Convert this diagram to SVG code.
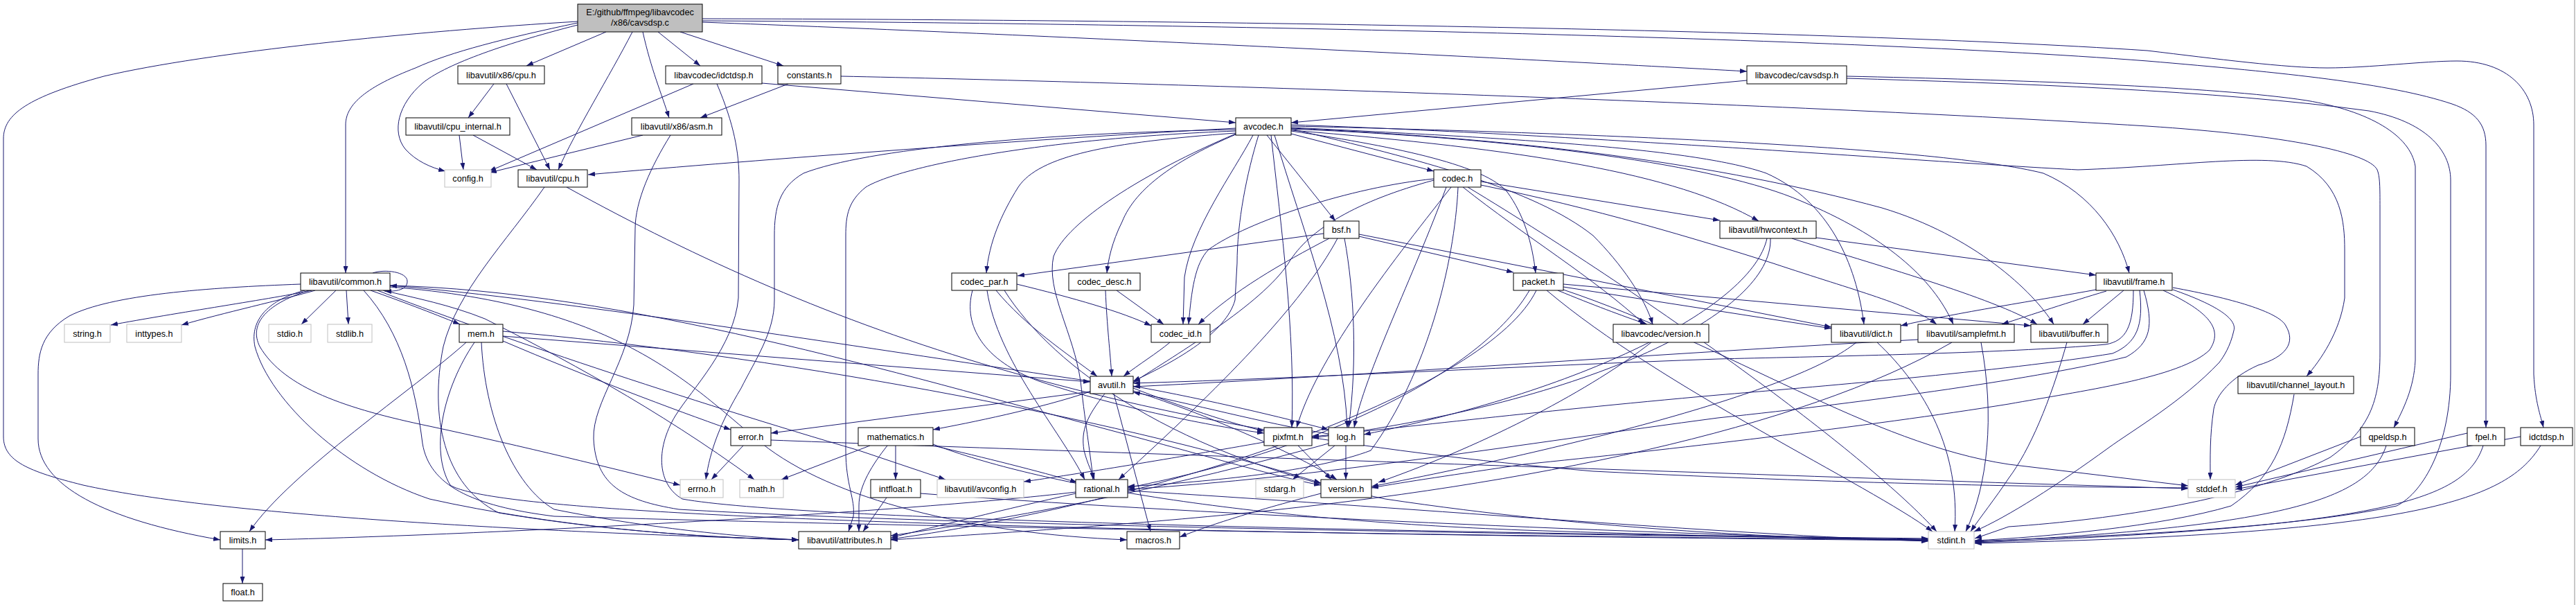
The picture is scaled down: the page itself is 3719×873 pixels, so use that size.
<svg xmlns="http://www.w3.org/2000/svg" width="3719" height="873" viewBox="0 0 3719 873">
<style>
.n rect{fill:#fff;stroke:#000;stroke-width:1}
.g rect{fill:#fff;stroke:#bfbfbf;stroke-width:1}
.r rect{fill:#bfbfbf;stroke:#000;stroke-width:1}
text{font-family:"Liberation Sans",Arial,sans-serif;font-size:12.7px;text-anchor:middle;fill:#000}
.e path{fill:none;stroke:#191970;stroke-width:1;marker-end:url(#a)}
</style>
<defs>
<marker id="a" markerUnits="userSpaceOnUse" markerWidth="10" markerHeight="7" refX="10" refY="3.5" orient="auto">
<path d="M0,0 L10,3.5 L0,7 z" fill="#191970"/>
</marker>
</defs>
<rect x="0" y="0" width="3719" height="873" fill="#fff"/>
<line x1="3717" y1="0" x2="3717" y2="873" stroke="#c8c8c8" stroke-width="2"/>
<g id="edges" class="e">
<path d="M875,46 L760,95"/>
<path d="M913,46 C880,110 830,190 806,245"/>
<path d="M928,46 C940,100 955,135 966,170"/>
<path d="M950,46 L1011,95"/>
<path d="M982,46 L1131,95"/>
<path d="M1014,32 C1500,50 2200,85 2522,103"/>
<path d="M1014,27 C1600,28 2600,40 3100,73 C3200,85 3300,98 3360,98 C3420,98 3500,88 3547,88 C3620,88 3658,130 3658,180 L3658,540 C3660,580 3668,600 3672,617"/>
<path d="M1014,30 C1600,33 2600,50 3100,88 C3300,105 3450,120 3540,150 C3575,162 3589,180 3589,210 L3589,617"/>
<path d="M834,33 C730,55 650,75 600,98 C530,125 499,150 499,180 L499,394"/>
<path d="M834,36 C720,65 640,95 610,120 C575,150 565,190 585,215 C600,232 622,242 643,247"/>
<path d="M834,31 C600,45 300,75 150,110 C40,140 5,165 5,200 L5,630 C5,665 40,680 120,700 C300,740 700,765 1153,779"/>
<path d="M713,121 L676,170"/>
<path d="M731,121 L794,245"/>
<path d="M663,195 L669,245"/>
<path d="M683,195 L775,245"/>
<path d="M1100,120 L1784,177"/>
<path d="M1001,121 L706,247"/>
<path d="M1035,121 C1060,180 1067,220 1067,260 L1066,430 C1060,500 1000,560 975,600 C945,650 950,700 985,720 C1150,750 2000,768 2784,777"/>
<path d="M1138,121 L1011,170"/>
<path d="M1214,110 C1600,118 2500,145 3100,182 C3300,195 3420,220 3432,245 C3436,255 3436,270 3436,300 L3436,510 C3436,580 3420,620 3364,660 C3250,720 3050,750 2900,760 L2851,777"/>
<path d="M928,195 L707,249"/>
<path d="M968,195 C940,240 917,290 917,330 L915,440 C910,520 855,580 857,633 C860,700 900,722 980,735 C1400,760 2300,772 2784,778"/>
<path d="M2522,116 L1864,177"/>
<path d="M2666,110 C2900,115 3200,125 3330,145 C3420,160 3480,195 3487,240 L3487,520 C3485,560 3470,590 3456,617"/>
<path d="M2666,113 C2900,120 3200,130 3420,160 C3500,175 3538,215 3538,260 L3538,540 C3538,640 3500,710 3460,730 C3300,765 3000,775 2851,781"/>
<path d="M1784,185 C1500,200 1100,230 849,252"/>
<path d="M1784,187 C1500,192 1250,215 1160,250 C1125,270 1118,300 1118,340 L1118,433 C1118,480 1090,520 1070,560 C1040,610 1025,650 1019,692"/>
<path d="M1784,189 C1500,200 1300,240 1250,270 C1225,290 1221,310 1221,340 L1221,650 C1221,700 1235,720 1232,745 L1225,767"/>
<path d="M1784,192 C1600,205 1500,225 1470,270 C1445,310 1428,350 1424,394"/>
<path d="M1784,194 C1700,230 1640,270 1620,320 C1605,350 1600,375 1598,394"/>
<path d="M1809,195 C1780,250 1720,330 1710,400 L1708,468"/>
<path d="M1817,195 C1800,250 1786,320 1786,380 L1783,433 C1770,480 1700,520 1636,550"/>
<path d="M1829,195 L1928,319"/>
<path d="M1864,193 L2070,247"/>
<path d="M1864,189 C2026,213 2145,240 2176,277 C2200,310 2212,350 2217,394"/>
<path d="M1864,186 C2050,230 2216,273 2300,340 C2340,380 2375,430 2386,468"/>
<path d="M1864,188 C2200,215 2420,250 2539,319"/>
<path d="M1864,186 C2200,200 2480,238 2600,290 C2720,340 2790,400 2820,468"/>
<path d="M1864,185 C2200,200 2480,236 2717,300 C2850,340 2935,420 2965,468"/>
<path d="M1864,184 C2200,200 2450,215 2550,250 C2640,290 2680,380 2691,468"/>
<path d="M1864,182 C2300,192 2800,212 2950,250 C3020,280 3060,340 3074,394"/>
<path d="M1864,180 C2300,195 2800,235 3000,245 C3150,240 3270,220 3330,240 C3380,270 3385,320 3385,360 L3385,430 C3378,480 3350,520 3330,543"/>
<path d="M1840,195 C1880,330 1940,480 1945,617"/>
<path d="M1835,195 C1850,330 1870,480 1865,617"/>
<path d="M1784,193 C1650,250 1540,320 1521,370 C1510,420 1550,480 1560,550 C1568,620 1575,660 1578,692"/>
<path d="M2138,262 L2483,318"/>
<path d="M2138,267 C2300,300 2450,345 2560,380 C2680,420 2760,440 2796,468"/>
<path d="M2070,258 C1950,270 1800,320 1745,360 C1725,380 1720,420 1716,468"/>
<path d="M2070,260 C1960,290 1890,330 1860,380 C1820,440 1700,510 1636,552"/>
<path d="M2088,270 C2040,400 1970,540 1955,617"/>
<path d="M2095,270 C2000,390 1900,520 1872,617"/>
<path d="M2105,270 C2100,380 2060,540 1979,650 C1900,680 1750,695 1628,702"/>
<path d="M2119,270 C2400,440 2700,660 2796,767"/>
<path d="M2112,270 C2200,340 2300,400 2374,468"/>
<path d="M1962,338 L2644,472"/>
<path d="M1962,341 L2185,393"/>
<path d="M1941,344 C1955,420 1960,520 1947,617"/>
<path d="M1931,344 C1880,440 1760,560 1615,692"/>
<path d="M1919,344 C1850,380 1780,420 1730,468"/>
<path d="M1911,337 L1469,398"/>
<path d="M2587,344 C2700,380 2880,430 2941,468"/>
<path d="M2622,343 L3026,397"/>
<path d="M2551,344 C2530,440 2300,560 1969,627"/>
<path d="M2556,344 C2560,450 2300,580 1894,632"/>
<path d="M450,419 C400,430 250,452 160,469"/>
<path d="M455,419 C410,432 320,452 262,469"/>
<path d="M485,419 L435,468"/>
<path d="M500,419 L503,468"/>
<path d="M434,410 C300,415 160,425 100,456 C60,480 55,510 55,540 L55,633 C55,700 150,750 318,779"/>
<path d="M446,419 C380,440 360,470 375,500 C410,560 500,590 620,615 C760,645 880,675 982,700"/>
<path d="M553,419 C600,430 650,440 700,460 C800,510 950,590 1089,692"/>
<path d="M525,419 C580,480 600,560 610,640 C620,700 680,730 800,745 C1500,765 2300,775 2784,779"/>
<path d="M440,419 C390,432 360,460 368,500 C390,580 500,680 620,720 C800,760 1000,776 1153,779"/>
<path d="M563,414 C900,440 1000,560 1100,640 C1200,720 1400,770 1627,779"/>
<path d="M563,412 C900,420 1300,540 1600,620 C1750,660 1850,690 1907,700"/>
<path d="M545,419 C700,480 1000,580 1240,650 L1365,692"/>
<path d="M535,419 C580,435 620,450 664,468"/>
<path d="M538,394 C555,388 588,392 588,406 C588,418 572,421 555,420"/>
<path d="M1574,550 C1300,510 800,430 563,412"/>
<path d="M673,494 C600,560 420,680 360,767"/>
<path d="M695,494 C700,600 740,700 800,735 C950,765 1080,775 1153,779"/>
<path d="M685,494 C640,560 620,650 650,700 C720,745 1500,768 2784,780"/>
<path d="M726,492 C850,545 970,590 1055,620"/>
<path d="M726,485 L1574,551"/>
<path d="M726,478 C1100,510 1600,600 1907,697"/>
<path d="M1073,643 L1027,692"/>
<path d="M1113,635 C1500,650 2500,683 2900,697 L3159,705"/>
<path d="M1293,643 L1293,692"/>
<path d="M1256,643 L1128,692"/>
<path d="M1347,643 C1420,660 1500,680 1555,696"/>
<path d="M1281,643 C1260,670 1240,700 1240,730 L1240,767"/>
<path d="M1347,641 C1500,700 1800,750 2200,765 C2500,775 2700,778 2784,779"/>
<path d="M1280,718 L1246,767"/>
<path d="M1329,712 C1700,740 2300,768 2784,780"/>
<path d="M1553,710 C1300,740 700,772 383,779"/>
<path d="M1553,712 C1450,735 1350,760 1286,776"/>
<path d="M1628,708 C2000,730 2500,772 2784,781"/>
<path d="M1574,565 L1113,625"/>
<path d="M1574,565 C1500,590 1400,610 1347,620"/>
<path d="M1595,568 C1570,600 1560,620 1565,650 C1570,670 1577,682 1580,692"/>
<path d="M1636,564 C1750,600 1880,660 1930,692"/>
<path d="M1608,568 L1661,767"/>
<path d="M1636,560 C1700,585 1780,612 1825,622"/>
<path d="M1636,557 C1750,578 1850,602 1918,620"/>
<path d="M1825,638 C1700,660 1550,685 1478,695"/>
<path d="M1874,643 L1922,692"/>
<path d="M1927,643 L1866,692"/>
<path d="M1943,643 L1943,692"/>
<path d="M1918,626 C1820,610 1720,582 1636,566"/>
<path d="M1918,640 C1700,700 1500,742 1286,773"/>
<path d="M1907,712 C1800,740 1740,760 1703,775"/>
<path d="M1689,494 C1670,510 1645,525 1622,543"/>
<path d="M1468,410 C1550,430 1620,450 1662,470"/>
<path d="M1438,419 C1480,470 1540,510 1584,543"/>
<path d="M1425,419 C1440,520 1530,620 1566,692"/>
<path d="M1404,419 C1390,470 1420,520 1500,550 C1620,590 1750,615 1825,625"/>
<path d="M1450,419 C1520,530 1700,660 2000,720 C2300,765 2600,778 2784,780"/>
<path d="M1612,419 L1680,468"/>
<path d="M1596,419 C1598,470 1603,510 1605,543"/>
<path d="M2257,410 L2932,470"/>
<path d="M2257,414 L2644,474"/>
<path d="M2249,419 C2300,440 2340,455 2378,468"/>
<path d="M2208,419 C2150,520 1950,640 1628,704"/>
<path d="M2218,419 C2150,560 1700,720 1286,778"/>
<path d="M2233,419 C2400,560 2700,700 2790,767"/>
<path d="M2257,418 C2500,500 2700,640 2900,670 L3159,701"/>
<path d="M3066,419 L3007,468"/>
<path d="M3026,418 C2950,432 2820,452 2744,470"/>
<path d="M3041,420 C2990,435 2930,455 2890,468"/>
<path d="M3137,415 C3220,430 3290,450 3300,470 C3315,495 3300,515 3260,527 C3220,545 3200,570 3196,590 C3190,630 3191,660 3191,692"/>
<path d="M3137,418 C3200,440 3230,460 3225,477 C3220,500 3210,515 3204,523 C3150,580 3080,620 3043,647 C2970,700 2900,745 2850,767"/>
<path d="M3080,419 C3080,470 3070,492 3040,497 C2900,510 2600,515 2480,518 C2200,528 1900,545 1636,553"/>
<path d="M3089,419 C3095,470 3085,495 3050,510 C2900,535 2600,560 2480,570 C2200,595 2000,620 1894,630"/>
<path d="M3095,419 C3110,470 3105,495 3070,515 C2950,545 2700,580 2480,603 C2200,640 1900,690 1628,706"/>
<path d="M3123,419 C3190,450 3210,475 3190,505 C3150,545 3000,565 2900,583 C2700,615 2400,650 2200,670 C2100,685 2030,695 1980,704"/>
<path d="M2710,494 C2780,560 2830,650 2822,767"/>
<path d="M2680,494 C2600,560 2300,640 1980,702"/>
<path d="M2860,494 C2880,600 2870,700 2838,767"/>
<path d="M2769,490 C2400,510 2000,540 1636,558"/>
<path d="M2818,494 C2600,620 2200,700 1800,740 C1600,760 1400,772 1286,779"/>
<path d="M2984,494 C2960,580 2930,650 2900,690 C2880,720 2860,745 2845,767"/>
<path d="M3312,569 C3300,640 3280,690 3221,730 C3120,760 2950,775 2851,780"/>
<path d="M2384,494 C2300,560 2150,640 1990,696"/>
<path d="M3408,630 L3227,700"/>
<path d="M3445,643 C3420,720 3300,760 2851,782"/>
<path d="M3562,625 L3227,703"/>
<path d="M3585,643 C3560,720 3450,760 2851,783"/>
<path d="M3639,630 L3227,706"/>
<path d="M3668,643 C3620,720 3500,770 2851,784"/>
<path d="M786,270 C730,350 660,420 640,500 C620,600 640,700 720,740 C900,770 1050,776 1153,779"/>
<path d="M818,270 C1200,480 1600,620 2300,680 C2700,700 3000,703 3159,704"/>
<path d="M350,792 L350,842"/>
</g>
<g id="node-root" class="r"><rect x="834" y="6" width="180" height="40"/><text x="924" y="22">E:/github/ffmpeg/libavcodec</text><text x="924" y="37">/x86/cavsdsp.c</text></g>
<g id="node-x86cpu" class="n"><rect x="661" y="95" width="125" height="26"/><text x="723.5" y="112.5">libavutil/x86/cpu.h</text></g>
<g id="node-lavc-idctdsp" class="n"><rect x="961" y="95" width="139" height="26"/><text x="1030.5" y="112.5">libavcodec/idctdsp.h</text></g>
<g id="node-constants" class="n"><rect x="1123" y="95" width="91" height="26"/><text x="1168.5" y="112.5">constants.h</text></g>
<g id="node-cavsdsp" class="n"><rect x="2522" y="95" width="144" height="26"/><text x="2594" y="112.5">libavcodec/cavsdsp.h</text></g>
<g id="node-cpu-internal" class="n"><rect x="586" y="170" width="150" height="25"/><text x="661" y="187">libavutil/cpu_internal.h</text></g>
<g id="node-asm" class="n"><rect x="912" y="170" width="130" height="25"/><text x="977" y="187">libavutil/x86/asm.h</text></g>
<g id="node-avcodec" class="n"><rect x="1784" y="170" width="80" height="25"/><text x="1824" y="187">avcodec.h</text></g>
<g id="node-config" class="g"><rect x="642" y="245" width="67" height="25"/><text x="675.5" y="262">config.h</text></g>
<g id="node-cpu" class="n"><rect x="748" y="245" width="100" height="25"/><text x="798" y="262">libavutil/cpu.h</text></g>
<g id="node-codec" class="n"><rect x="2070" y="245" width="68" height="25"/><text x="2104" y="262">codec.h</text></g>
<g id="node-bsf" class="n"><rect x="1911" y="319" width="51" height="25"/><text x="1936.5" y="336">bsf.h</text></g>
<g id="node-hwcontext" class="n"><rect x="2483" y="319" width="139" height="25"/><text x="2552.5" y="336">libavutil/hwcontext.h</text></g>
<g id="node-common" class="n"><rect x="434" y="394" width="129" height="25"/><text x="498.5" y="411">libavutil/common.h</text></g>
<g id="node-codec-par" class="n"><rect x="1374" y="394" width="94" height="25"/><text x="1421" y="411">codec_par.h</text></g>
<g id="node-codec-desc" class="n"><rect x="1543" y="394" width="103" height="25"/><text x="1594.5" y="411">codec_desc.h</text></g>
<g id="node-packet" class="n"><rect x="2185" y="394" width="72" height="25"/><text x="2221" y="411">packet.h</text></g>
<g id="node-frame" class="n"><rect x="3026" y="394" width="110" height="25"/><text x="3081" y="411">libavutil/frame.h</text></g>
<g id="node-string" class="g"><rect x="93" y="468" width="66" height="26"/><text x="126" y="485.5">string.h</text></g>
<g id="node-inttypes" class="g"><rect x="183" y="468" width="79" height="26"/><text x="222.5" y="485.5">inttypes.h</text></g>
<g id="node-stdio" class="g"><rect x="388" y="468" width="61" height="26"/><text x="418.5" y="485.5">stdio.h</text></g>
<g id="node-stdlib" class="g"><rect x="473" y="468" width="64" height="26"/><text x="505" y="485.5">stdlib.h</text></g>
<g id="node-mem" class="n"><rect x="663" y="468" width="63" height="26"/><text x="694.5" y="485.5">mem.h</text></g>
<g id="node-codec-id" class="n"><rect x="1662" y="468" width="85" height="26"/><text x="1704.5" y="485.5">codec_id.h</text></g>
<g id="node-lavc-version" class="n"><rect x="2329" y="468" width="138" height="26"/><text x="2398" y="485.5">libavcodec/version.h</text></g>
<g id="node-dict" class="n"><rect x="2644" y="468" width="100" height="26"/><text x="2694" y="485.5">libavutil/dict.h</text></g>
<g id="node-samplefmt" class="n"><rect x="2769" y="468" width="139" height="26"/><text x="2838.5" y="485.5">libavutil/samplefmt.h</text></g>
<g id="node-buffer" class="n"><rect x="2932" y="468" width="111" height="26"/><text x="2987.5" y="485.5">libavutil/buffer.h</text></g>
<g id="node-avutil" class="n"><rect x="1574" y="543" width="62" height="25"/><text x="1605" y="560">avutil.h</text></g>
<g id="node-channel-layout" class="n"><rect x="3231" y="543" width="167" height="25"/><text x="3314.5" y="560">libavutil/channel_layout.h</text></g>
<g id="node-error" class="n"><rect x="1055" y="617" width="58" height="26"/><text x="1084" y="634.5">error.h</text></g>
<g id="node-mathematics" class="n"><rect x="1239" y="617" width="108" height="26"/><text x="1293" y="634.5">mathematics.h</text></g>
<g id="node-pixfmt" class="n"><rect x="1825" y="617" width="69" height="26"/><text x="1859.5" y="634.5">pixfmt.h</text></g>
<g id="node-log" class="n"><rect x="1918" y="617" width="51" height="26"/><text x="1943.5" y="634.5">log.h</text></g>
<g id="node-qpeldsp" class="n"><rect x="3408" y="617" width="78" height="26"/><text x="3447" y="634.5">qpeldsp.h</text></g>
<g id="node-fpel" class="n"><rect x="3562" y="617" width="54" height="26"/><text x="3589" y="634.5">fpel.h</text></g>
<g id="node-idctdsp" class="n"><rect x="3639" y="617" width="75" height="26"/><text x="3676.5" y="634.5">idctdsp.h</text></g>
<g id="node-errno" class="g"><rect x="982" y="692" width="62" height="26"/><text x="1013" y="709.5">errno.h</text></g>
<g id="node-math" class="g"><rect x="1068" y="692" width="63" height="26"/><text x="1099.5" y="709.5">math.h</text></g>
<g id="node-intfloat" class="n"><rect x="1257" y="692" width="72" height="26"/><text x="1293" y="709.5">intfloat.h</text></g>
<g id="node-avconfig" class="g"><rect x="1353" y="692" width="125" height="26"/><text x="1415.5" y="709.5">libavutil/avconfig.h</text></g>
<g id="node-rational" class="n"><rect x="1553" y="692" width="75" height="26"/><text x="1590.5" y="709.5">rational.h</text></g>
<g id="node-stdarg" class="g"><rect x="1813" y="692" width="69" height="26"/><text x="1847.5" y="709.5">stdarg.h</text></g>
<g id="node-version" class="n"><rect x="1907" y="692" width="73" height="26"/><text x="1943.5" y="709.5">version.h</text></g>
<g id="node-stddef" class="g"><rect x="3159" y="692" width="68" height="26"/><text x="3193" y="709.5">stddef.h</text></g>
<g id="node-limits" class="n"><rect x="318" y="767" width="65" height="25"/><text x="350.5" y="784">limits.h</text></g>
<g id="node-attributes" class="n"><rect x="1153" y="767" width="133" height="25"/><text x="1219.5" y="784">libavutil/attributes.h</text></g>
<g id="node-macros" class="n"><rect x="1627" y="767" width="76" height="25"/><text x="1665" y="784">macros.h</text></g>
<g id="node-stdint" class="g"><rect x="2784" y="767" width="66" height="25"/><text x="2817" y="784">stdint.h</text></g>
<g id="node-float" class="n"><rect x="322" y="842" width="57" height="25"/><text x="350.5" y="859">float.h</text></g>
</svg>
